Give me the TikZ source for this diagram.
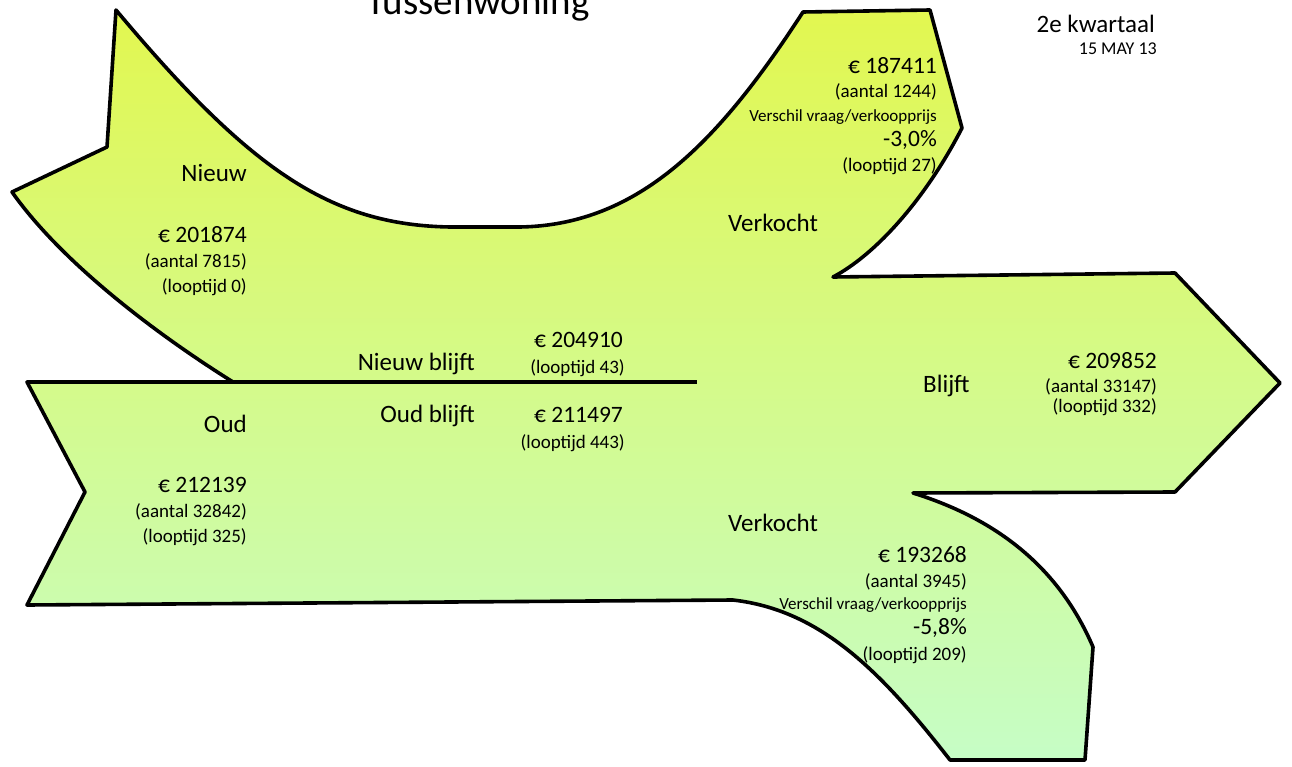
\documentclass[tikz,border=0pt]{standalone}
\usepackage{fontspec}
\setmainfont{Carlito}
\definecolor{topc}{RGB}{226,247,80}
\definecolor{midc}{RGB}{215,250,150}
\definecolor{botc}{RGB}{198,253,198}
\tikzset{
  lbl/.style={inner sep=0pt,font=\fontsize{25}{28}\selectfont},
  num/.style={inner sep=0pt,font=\fontsize{23.5}{26}\selectfont},
  sml/.style={inner sep=0pt,font=\fontsize{19}{22}\selectfont},
  tny/.style={inner sep=0pt,font=\fontsize{17}{20}\selectfont},
  outline/.style={line width=3.6pt,line join=round,draw=black,top color=topc,middle color=midc,bottom color=botc},
  sepline/.style={line width=3.6pt}
}
\begin{document}
\begin{tikzpicture}[x=1pt,y=-1pt]
\useasboundingbox (0,0) rectangle (1292,767);
% outline of the flow arrows
\path[outline] (116,10) .. controls (250,170) and (330,225) .. (450,227)
  -- (520,227) .. controls (640,225) and (720,140) .. (803,12)
  -- (930,10) -- (962,128)
  .. controls (925,200) and (875,255) .. (833,277)
  -- (1175,273) -- (1280,383) -- (1175,492) -- (913,493)
  .. controls (1000,520) and (1060,570) .. (1093,647)
  -- (1085,760) -- (950,760)
  .. controls (880,670) and (820,610) .. (733,600)
  -- (27,605) -- (85,492) -- (27,382) -- (233,382)
  .. controls (150,330) and (60,260) .. (12,192)
  -- (107,147) -- cycle;
\coordinate (sepA) at (233,382);
\coordinate (sepB) at (697,382);
\draw[sepline] (sepA) -- (sepB);
% title
\node[inner sep=0pt,anchor=base,font=\fontsize{39}{44}\selectfont] (title) at (478,15) {Tussenwoning};
\node[lbl,anchor=base east] (kw) at (1155,33) {2e kwartaal};
\node[inner sep=0pt,anchor=base east,font=\fontsize{18}{20}\selectfont] (date) at (1157,55) {15 MAY 13};
% Nieuw
\node[lbl,anchor=base east] (nieuw) at (247,182) {Nieuw};
\node[num,anchor=base east] (nprice) at (247,243) {€ 201874};
\node[sml,anchor=base east] (naant) at (247,268) {(aantal 7815)};
\node[sml,anchor=base east] (nloop) at (247,292) {(looptijd 0)};
% Oud
\node[lbl,anchor=base east] (oud) at (247,432) {Oud};
\node[num,anchor=base east] (oprice) at (247,492) {€ 212139};
\node[sml,anchor=base east] (oaant) at (247,517) {(aantal 32842)};
\node[sml,anchor=base east] (oloop) at (247,542) {(looptijd 325)};
% blijft in the middle
\node[lbl,anchor=base east] (nb) at (475,370) {Nieuw blijft};
\node[num,anchor=base east] (nbprice) at (623,347) {€ 204910};
\node[sml,anchor=base east] (nbloop) at (625,373) {(looptijd 43)};
\node[lbl,anchor=base east] (ob) at (475,422) {Oud blijft};
\node[num,anchor=base east] (obprice) at (623,422) {€ 211497};
\node[sml,anchor=base east] (obloop) at (625,448) {(looptijd 443)};
% Verkocht upper
\node[lbl,anchor=base west] (vk1) at (728,232) {Verkocht};
\node[num,anchor=base east] (v1price) at (937,74) {€ 187411};
\node[sml,anchor=base east] (v1aant) at (937,98) {(aantal 1244)};
\node[tny,anchor=base east] (v1vs) at (937,122) {Verschil vraag/verkoopprijs};
\node[num,anchor=base east] (v1pct) at (937,147) {-3,0\%};
\node[sml,anchor=base east] (v1loop) at (937,172) {(looptijd 27)};
% Blijft
\node[lbl,anchor=base west] (bl) at (923,392) {Blijft};
\node[num,anchor=base east] (blprice) at (1157,368) {€ 209852};
\node[sml,anchor=base east] (blaant) at (1157,392) {(aantal 33147)};
\node[sml,anchor=base east] (blloop) at (1157,412) {(looptijd 332)};
% Verkocht lower
\node[lbl,anchor=base west] (vk2) at (728,531) {Verkocht};
\node[num,anchor=base east] (v2price) at (967,562) {€ 193268};
\node[sml,anchor=base east] (v2aant) at (967,587) {(aantal 3945)};
\node[tny,anchor=base east] (v2vs) at (967,609) {Verschil vraag/verkoopprijs};
\node[num,anchor=base east] (v2pct) at (967,634) {-5,8\%};
\node[sml,anchor=base east] (v2loop) at (967,660) {(looptijd 209)};
\end{tikzpicture}
\end{document}
